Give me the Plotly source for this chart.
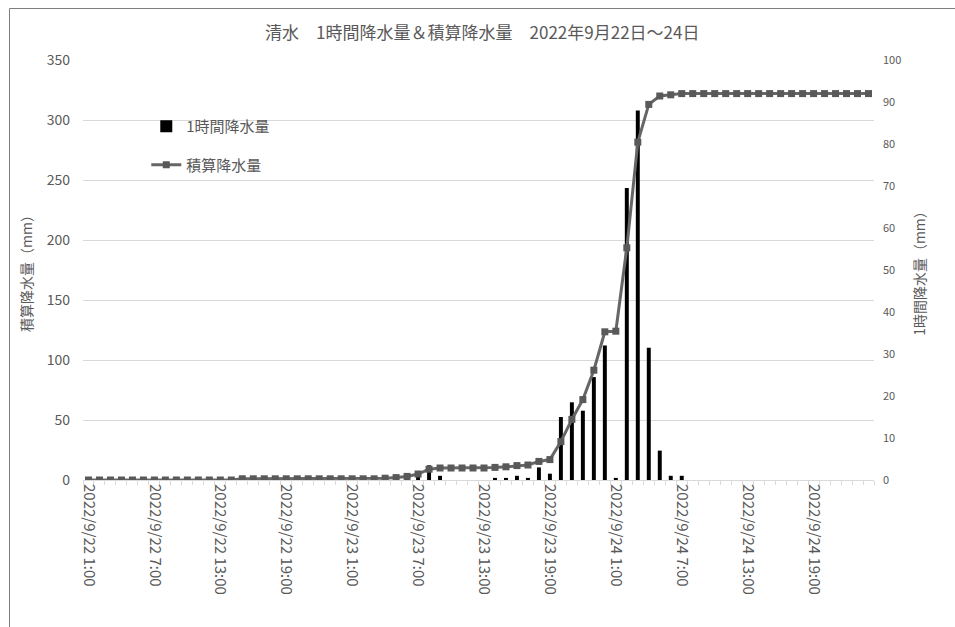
import pandas as pd
import plotly.graph_objects as go

# Hourly time axis: 2022/9/22 1:00 through 2022/9/25 0:00
times = pd.date_range("2022-09-22 01:00", "2022-09-25 00:00", freq="h")
categories = [f"{t.year}/{t.month}/{t.day} {t.hour}:{t.minute:02d}" for t in times]

# 1-hour precipitation (mm), right axis
hourly_mm = [
    0, 0, 0, 0, 0, 0, 0, 0, 0, 0, 0, 0, 0, 0,
    1.0,
    0, 0, 0, 0, 0, 0, 0, 0, 0, 0, 0, 0,
    0.5, 0.5, 1.0, 2.0, 3.5, 1.0, 0, 0, 0, 0,
    0.5, 0.5, 1.0, 0.5, 3.0, 1.5,
    15.0, 18.5, 16.5, 24.5, 32.0, 0.5, 69.5, 88.0, 31.5, 7.0, 1.0, 1.0,
    0, 0, 0, 0, 0, 0, 0, 0, 0, 0, 0, 0, 0, 0, 0, 0, 0,
]

# Accumulated precipitation (mm), left axis
cumulative_mm = [
    0, 0, 0, 0, 0, 0, 0, 0, 0, 0, 0, 0, 0, 0,
    1.0, 1.0, 1.0, 1.0, 1.0, 1.0, 1.0, 1.0, 1.0, 1.0, 1.0, 1.0, 1.0,
    1.5, 2.0, 3.0, 5.0, 9.0, 10.0, 10.0, 10.0, 10.0, 10.0,
    10.5, 11.0, 12.0, 12.5, 15.5, 17.0,
    32.0, 50.5, 67.0, 91.5, 123.5, 124.0, 193.5, 281.5, 313.0, 320.0, 321.0, 322.0,
    322.0, 322.0, 322.0, 322.0, 322.0, 322.0, 322.0, 322.0, 322.0,
    322.0, 322.0, 322.0, 322.0, 322.0, 322.0, 322.0, 322.0,
]

tick_text = [c if i % 6 == 0 else "" for i, c in enumerate(categories)]

TXT = "#595959"
GRID = "#d9d9d9"
FONT = "Noto Sans CJK JP"

fig = go.Figure()

fig.add_trace(go.Bar(
    x=categories, y=hourly_mm, name="1時間降水量",
    marker=dict(color="#000000", line=dict(width=0)),
    width=0.36, yaxis="y", legendgroup="a",
))

fig.add_trace(go.Scatter(
    x=categories, y=cumulative_mm, name="積算降水量",
    mode="lines+markers",
    line=dict(color="#666666", width=3),
    marker=dict(symbol="square", size=7, color="#595959"),
    yaxis="y2", legendgroup="b",
))

fig.update_layout(
    width=955, height=627,
    margin=dict(l=83, r=81, t=60, b=147),
    paper_bgcolor="white", plot_bgcolor="white",
    font=dict(family=FONT, color=TXT),
    title=dict(
        text="清水　1時間降水量＆積算降水量　2022年9月22日～24日",
        x=0.505, xanchor="center", y=0.947, yanchor="middle",
        font=dict(size=17, color=TXT),
    ),
    showlegend=True,
    legend=dict(
        x=0.08, y=0.881, xanchor="left", yanchor="top",
        bgcolor="rgba(0,0,0,0)", font=dict(size=15, color=TXT),
        traceorder="grouped", tracegroupgap=16, itemwidth=30,
    ),
    xaxis=dict(
        type="category", range=[-0.5, len(categories) - 0.5],
        tickmode="array", tickvals=categories, ticktext=tick_text,
        tickson="boundaries", ticks="outside", ticklen=4, tickcolor=GRID,
        tickangle=90, tickfont=dict(size=15, color=TXT),
        showline=True, linecolor=GRID, linewidth=1,
        showgrid=False, zeroline=False,
    ),
    yaxis=dict(
        side="right", range=[0, 100], dtick=10,
        showgrid=False, zeroline=False, showline=False,
        tickfont=dict(size=11, color=TXT), ticks="", ticklabelstandoff=8,
        title=dict(text="1時間降水量（mm）", font=dict(size=14, color=TXT), standoff=14),
    ),
    yaxis2=dict(
        overlaying="y", side="left", range=[0, 350], dtick=50,
        showgrid=True, gridcolor=GRID, gridwidth=1,
        zeroline=False, showline=False,
        tickfont=dict(size=14, color=TXT), ticks="", ticklabelstandoff=12,
        title=dict(text="積算降水量（mm）", font=dict(size=14, color=TXT), standoff=10),
    ),
    bargap=0.64,
)

# Chart-area frame
fig.add_shape(
    type="rect", xref="paper", yref="paper",
    x0=(9.5 - 83) / 791, x1=(962 - 83) / 791,
    y0=(480 - 640) / 420, y1=(480 - 8.5) / 420,
    line=dict(color="#7f7f7f", width=1), fillcolor="rgba(0,0,0,0)", layer="below",
)

fig.write_html("out.html")
